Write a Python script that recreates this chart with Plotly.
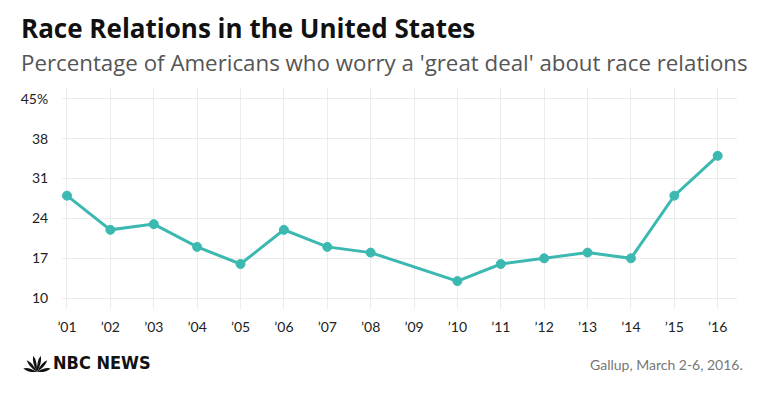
import math
import plotly.graph_objects as go

years = [2001, 2002, 2003, 2004, 2005, 2006, 2007, 2008, 2009, 2010, 2011, 2012, 2013, 2014, 2015, 2016]
values = [28, 22, 23, 19, 16, 22, 19, 18, None, 13, 16, 17, 18, 17, 28, 35]
x_tick_labels = ["’01", "’02", "’03", "’04", "’05", "’06", "’07", "’08", "’09", "’10",
                 "’11", "’12", "’13", "’14", "’15", "’16"]
y_ticks = [10, 17, 24, 31, 38, 45]
y_tick_labels = ["10", "17", "24", "31", "38", "45%"]

title = "Race Relations in the United States"
subtitle = "Percentage of Americans who worry a 'great deal' about race relations"
source = "Gallup, March 2-6, 2016."
brand = "NBC NEWS"

teal = "#3bb9b1"
font = "'Open Sans', Lato, sans-serif"

W, H = 760, 399
ML, MR, MT, MB = 62, 23, 88, 90
pw = W - ML - MR
ph = H - MT - MB


def px_x(x):
    return (x - ML) / pw


def px_y(y_from_top):
    return (H - y_from_top - MB) / ph


fig = go.Figure()
fig.add_trace(go.Scatter(
    x=years, y=values, mode="lines+markers", connectgaps=True,
    line=dict(color=teal, width=3),
    marker=dict(color=teal, size=9, line=dict(color=teal, width=1)),
    showlegend=False, hoverinfo="x+y",
))

fig.update_layout(
    width=W, height=H,
    margin=dict(l=ML, r=MR, t=MT, b=MB),
    paper_bgcolor="white", plot_bgcolor="white",
    font=dict(family=font, color="#222", size=14),
    xaxis=dict(
        range=[2000.885, 2016.445], tickmode="array", tickvals=years, ticktext=x_tick_labels,
        showgrid=True, gridcolor="#ebebeb", gridwidth=1, zeroline=False, showline=False,
        ticks="outside", ticklen=5, tickcolor="rgba(0,0,0,0)",
        tickfont=dict(size=14, color="#222", family="Lato, sans-serif"),
    ),
    yaxis=dict(
        range=[8.1, 46.9], tickmode="array", tickvals=y_ticks, ticktext=y_tick_labels,
        showgrid=True, gridcolor="#ebebeb", gridwidth=1, zeroline=False, showline=False,
        ticks="outside", ticklen=10, tickcolor="rgba(0,0,0,0)",
        tickfont=dict(size=14, color="#222", family="Lato, sans-serif"),
    ),
    annotations=[
        dict(text="<b>" + title + "</b>", x=px_x(19), y=px_y(28), xref="paper", yref="paper",
             xanchor="left", yanchor="middle", showarrow=False,
             font=dict(size=26, color="#111", family=font)),
        dict(text=subtitle, x=px_x(19), y=px_y(63), xref="paper", yref="paper",
             xanchor="left", yanchor="middle", showarrow=False,
             font=dict(size=22.3, color="#555", family=font)),
        dict(text="<b>" + brand + "</b>", x=px_x(51), y=px_y(362), xref="paper", yref="paper",
             xanchor="left", yanchor="middle", showarrow=False,
             font=dict(size=18, color="#111", family="'Liberation Sans Narrow', 'DejaVu Sans Condensed', sans-serif")),
        dict(text=source, x=px_x(745), y=px_y(364), xref="paper", yref="paper",
             xanchor="right", yanchor="middle", showarrow=False,
             font=dict(size=14, color="#777", family="Lato, sans-serif")),
    ],
)

# simple peacock logo made of feather shapes (pixel coords converted to domain)
cx, cy = 37, 372
for i in range(6):
    ang = math.radians(180 - 12 - i * 31.2)
    tipx = cx + 14 * math.cos(ang)
    tipy = cy - 17 * math.sin(ang)
    nx = -math.sin(ang) * 3.0
    ny = -math.cos(ang) * 3.0
    pts = [(cx, cy),
           (cx + (tipx - cx) * 0.65 + nx, cy + (tipy - cy) * 0.65 + ny),
           (tipx, tipy),
           (cx + (tipx - cx) * 0.65 - nx, cy + (tipy - cy) * 0.65 - ny)]
    conv = [f"{px_x(a):.5f},{px_y(b):.5f}" for a, b in pts]
    path = f"M {conv[0]} Q {conv[1]} {conv[2]} Q {conv[3]} {conv[0]} Z"
    fig.add_shape(type="path", path=path, xref="x domain", yref="y domain",
                  fillcolor="#111", line=dict(width=0))

fig.write_html("out.html", config={"displayModeBar": False},
               post_script="document.body.style.margin='0';")
